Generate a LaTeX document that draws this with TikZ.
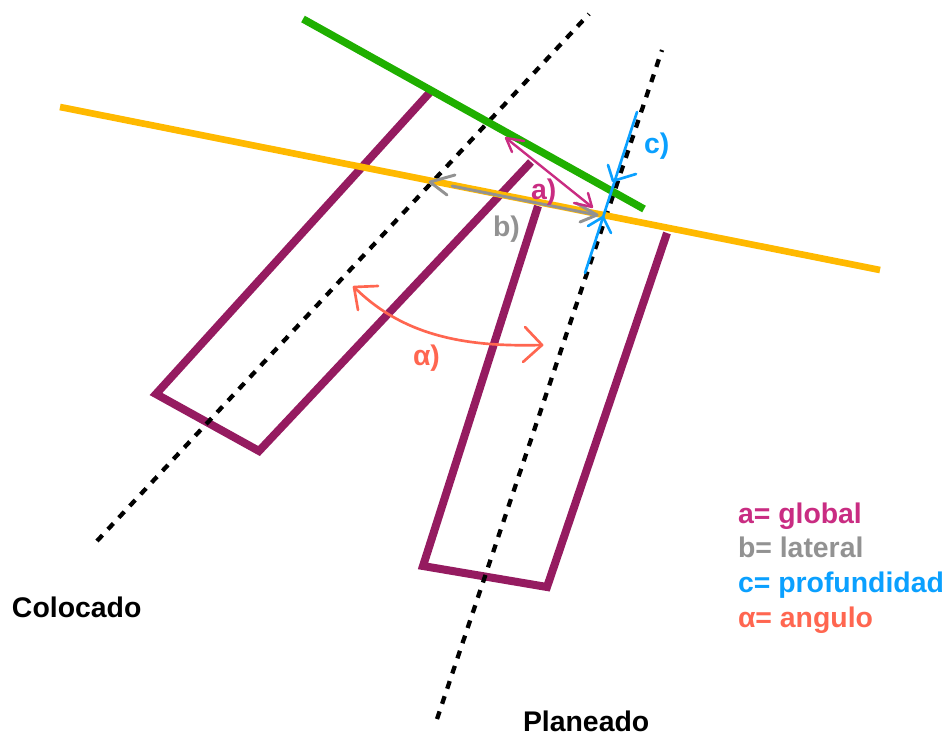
\documentclass[tikz,border=0pt]{standalone}
\usepackage{fontspec}
\setmainfont{Liberation Sans}
\definecolor{cplum}{HTML}{951B60}
\definecolor{cpink}{HTML}{C92C82}
\definecolor{cgray}{HTML}{929292}
\definecolor{cblue}{HTML}{0AA0FF}
\definecolor{csalmon}{HTML}{FF6650}
\definecolor{cgreen}{HTML}{1FAF00}
\definecolor{cyellow}{HTML}{FFB900}
\tikzset{
 plum/.style={draw=cplum,line width=6pt,miter limit=10},
 axis/.style={draw=black,line width=3.2pt,dash pattern=on 6pt off 6pt},
 thinpink/.style={draw=cpink,line width=1.8pt,line cap=round,line join=round},
 thingray/.style={draw=cgray,line width=2.2pt,line cap=round,line join=round},
 thinblue/.style={draw=cblue,line width=2pt,line cap=round,line join=round},
 thinsalmon/.style={draw=csalmon,line width=2pt,line cap=round,line join=round},
 lab/.style={font=\bfseries\fontsize{21.3}{25}\selectfont,anchor=base west,inner sep=0pt,outer sep=0pt},
}
\begin{document}
\begin{tikzpicture}[x=0.75pt,y=-0.75pt]
\useasboundingbox (0,0) rectangle (945,736);
% coordinates
\coordinate (r1a) at (432,90); \coordinate (r1b) at (156,394); \coordinate (r1c) at (259,451); \coordinate (r1d) at (531,162);
\coordinate (r2a) at (538,206); \coordinate (r2b) at (423,566); \coordinate (r2c) at (547,587); \coordinate (r2d) at (667,233);
\coordinate (ax1a) at (97,541); \coordinate (ax1b) at (589,14);
\coordinate (ax2a) at (437,719); \coordinate (ax2b) at (662,50);
\coordinate (gr1) at (303,19); \coordinate (gr2) at (644,209);
\coordinate (ye1) at (60,107); \coordinate (ye2) at (880,270);
% plum prongs
\draw[plum] (r1a) -- (r1b) -- (r1c) -- (r1d);
\draw[plum] (r2a) -- (r2b) -- (r2c) -- (r2d);
% axes
\draw[axis] (ax1a) -- (ax1b);
\draw[axis] (ax2a) -- (ax2b);
% gray (under yellow edge)
\coordinate (gs) at (452,186); \coordinate (gt1) at (430,182); \coordinate (gt2) at (597,215);
\coordinate (gb1) at (455,175); \coordinate (gb2) at (447,195);
\coordinate (gb3) at (580,222); \coordinate (gb4) at (576,203);
% yellow and green
\draw[draw=cyellow,line width=5pt] (ye1) -- (ye2);
\draw[draw=cgreen,line width=5.6pt] (gr1) -- (gr2);
\draw[thingray] (gs) -- (gt2);
\draw[thingray] (gb1) -- (gt1) -- (gb2);
\draw[thingray] (gb3) -- (gt2) -- (gb4);
% pink
\coordinate (pt1) at (506,138); \coordinate (pt2) at (592,207);
\coordinate (pb1) at (524,141); \coordinate (pb2) at (512,152);
\coordinate (pb3) at (588,193); \coordinate (pb4) at (574,203);
\draw[thinpink] (pt1) -- (pt2);
\draw[thinpink] (pb1) -- (pt1) -- (pb2);
\draw[thinpink] (pb3) -- (pt2) -- (pb4);
% blue
\coordinate (ct) at (637,112); \coordinate (cb) at (585,273);
\coordinate (ct1) at (613,181); \coordinate (ct2) at (603,217);
\coordinate (cb1) at (608,165); \coordinate (cb2) at (636,174);
\coordinate (cb3) at (588,226); \coordinate (cb4) at (611,233);
\draw[thinblue] (ct) -- (cb);
\draw[thinblue] (cb1) -- (ct1) -- (cb2);
\draw[thinblue] (cb3) -- (ct2) -- (cb4);
% salmon angle
\coordinate (st1) at (354,287); \coordinate (st2) at (542,345);
\coordinate (sb1) at (378,286); \coordinate (sb2) at (358,310);
\coordinate (sb3) at (525,327); \coordinate (sb4) at (523,362);
\draw[thinsalmon] (st1) .. controls (405,338) and (470,347) .. (st2);
\draw[thinsalmon] (sb1) -- (st1) -- (sb2);
\draw[thinsalmon] (sb3) -- (st2) -- (sb4);
% labels
\node[lab,text=cpink] (la) at (531,199) {a)};
\node[lab,text=cgray] (lb) at (493,236) {b)};
\node[lab,text=cblue] (lc) at (644,153) {c)};
\node[lab,text=csalmon] (lal) at (413,365) {α)};
\node[lab] (col) at (12,617) {Colocado};
\node[lab] (pla) at (523,731) {Planeado};
\node[lab,text=cpink] (k1) at (738,523) {a= global};
\node[lab,text=cgray] (k2) at (738,557) {b= lateral};
\node[lab,text=cblue] (k3) at (738,592) {c= profundidad};
\node[lab,text=csalmon] (k4) at (738,627) {α= angulo};
\end{tikzpicture}
\end{document}
